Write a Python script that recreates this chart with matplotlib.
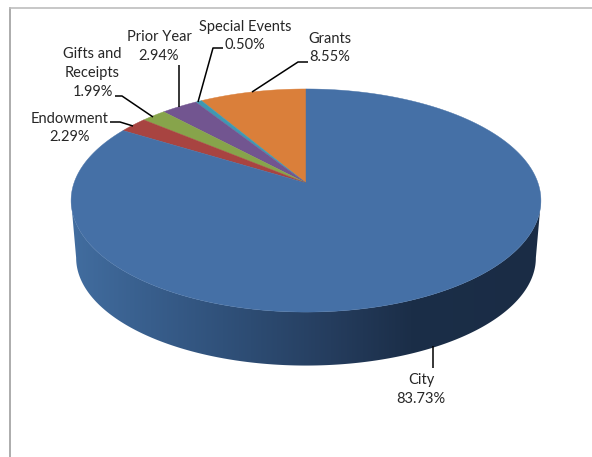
import numpy as np
import matplotlib
matplotlib.use("Agg")
import matplotlib.pyplot as plt
from matplotlib.patches import PathPatch, Polygon
from matplotlib.path import Path

categories = ["Grants", "Special Events", "Prior Year", "Gifts and\nReceipts", "Endowment", "City"]
values = [8.55, 0.50, 2.94, 1.99, 2.29, 83.73]
colors = ["#DA7F3A", "#3F98B2", "#725590", "#87A44B", "#A84441", "#4570A6"]
label_pos = [(330, 48), (245, 36), (159, 46.5), (92.5, 73), (70, 128), (421, 389.5)]
leaders = [
    [(308, 62), (298, 62), (252, 92)],
    [(223, 48), (213, 48), (198, 102)],
    [(179, 65), (179, 107)],
    [(115, 96), (122, 96), (153, 117)],
    [(110, 122), (120, 122), (133, 126)],
    [(433, 346), (433, 368)],
]

W, H = 592, 457
fig = plt.figure(figsize=(W / 100, H / 100), dpi=100)
ax = fig.add_axes([0, 0, 1, 1])
ax.set_xlim(0, W)
ax.set_ylim(H, 0)
ax.axis("off")
plt.rcParams["font.family"] = ["Lato", "DejaVu Sans"]

CX, CY, A, B, K = 306.0, 183.0, 232.0, 108.8, 0.157


def rim(frac, cx=CX, cy=CY, a=A, b=B, k=K):
    """Perspective projection of a circle; frac runs anticlockwise from 12 o'clock."""
    t = 2 * np.pi * np.asarray(frac)
    u, v = -np.sin(t), np.cos(t)
    d = 1 + k * v
    return np.column_stack([cx + a * u / d, cy - b * v / d])


# side wall
f = np.linspace(0, 1, 721)
top = rim(f)
low = rim(f, cy=241.0, a=227.0, b=105.0, k=0.157)
il, ir = top[:, 0].argmin(), top[:, 0].argmax()
jl, jr = low[:, 0].argmin(), low[:, 0].argmax()
top_lower = top[il:ir + 1]
low_lower = low[jl:jr + 1]
wall = np.vstack([top_lower[::-1], low_lower])
path = Path(np.vstack([wall, wall[0]]), closed=True)
stops_x = [77, 150, 250, 330, 410, 536]
stops_c = [(0x41, 0x6C, 0x9E), (0x38, 0x5E, 0x8C), (0x2D, 0x4C, 0x73), (0x25, 0x3D, 0x5E),
           (0x1B, 0x2E, 0x48), (0x1A, 0x2C, 0x45)]
xs = np.arange(70, 543)
grad = np.stack([np.interp(xs, stops_x, [c[i] for c in stops_c]) for i in range(3)], axis=-1) / 255
im = ax.imshow(grad[None, :, :], extent=(70, 543, 380, 190), aspect="auto", zorder=1)
im.set_clip_path(PathPatch(path, transform=ax.transData))
ax.set_xlim(0, W)
ax.set_ylim(H, 0)

# top face
fr = np.concatenate([[0], np.cumsum(values) / np.sum(values)])
for i, c in enumerate(colors):
    n = max(int((fr[i + 1] - fr[i]) * 720), 3)
    pts = rim(np.linspace(fr[i], fr[i + 1], n))
    ax.add_patch(Polygon(np.vstack([[CX, CY], pts]), closed=True, fc=c, ec=c, lw=0.3, zorder=2))

# labels
for name, v, (x, y), ld in zip(categories, values, label_pos, leaders):
    ax.text(x, y, f"{name}\n{v:.2f}%", ha="center", va="center", fontsize=10.5,
            color="#262626", linespacing=1.42, zorder=4)
    ld = np.array(ld)
    ax.plot(ld[:, 0], ld[:, 1], color="black", lw=1.1, zorder=3, solid_capstyle="butt")

# frame
ax.plot([10, 10], [H, 7.5], color="#9E9E9E", lw=1.2, zorder=5, clip_on=False)
ax.plot([10, W], [7.5, 7.5], color="#BDBDBD", lw=1.2, zorder=5, clip_on=False)

fig.savefig("out.png", dpi=100, facecolor="white")
